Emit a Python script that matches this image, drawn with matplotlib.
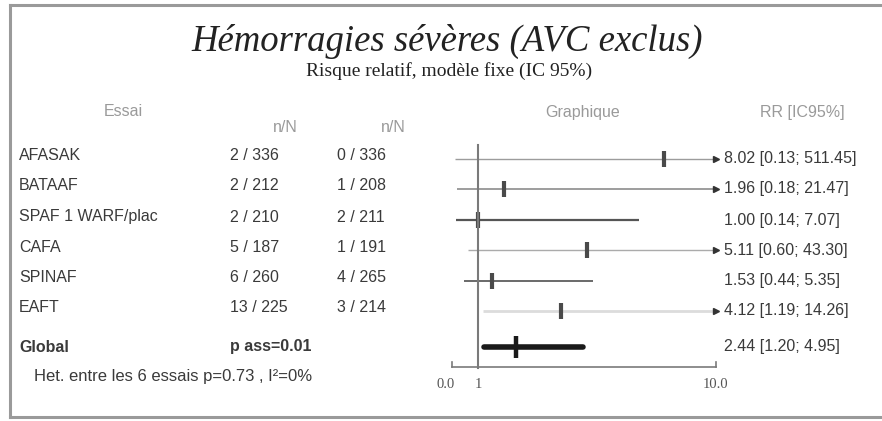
import matplotlib
matplotlib.use("Agg")
import matplotlib.pyplot as plt

# Trial table
trials = ["AFASAK", "BATAAF", "SPAF 1 WARF/plac", "CAFA", "SPINAF", "EAFT"]
treated = ["2 / 336", "2 / 212", "2 / 210", "5 / 187", "6 / 260", "13 / 225"]
control = ["0 / 336", "1 / 208", "2 / 211", "1 / 191", "4 / 265", "3 / 214"]
rr = [8.02, 1.96, 1.00, 5.11, 1.53, 4.12]
ci_low = [0.13, 0.18, 0.14, 0.60, 0.44, 1.19]
ci_high = [511.45, 21.47, 7.07, 43.30, 5.35, 14.26]
rr_global = 2.44
ci_global = (1.20, 4.95)
x_max = 10.0

W, H = 882, 421
fig = plt.figure(figsize=(W / 100, H / 100), dpi=100)
fig.patch.set_facecolor("white")

# page axes in pixel units for all text
page = fig.add_axes([0, 0, 1, 1])
page.set_xlim(0, W)
page.set_ylim(H, 0)
page.axis("off")

# frame
page.plot([10, W], [5, 5], color="#9a9a9a", lw=2.2)
page.plot([10, 10], [5, 417], color="#9a9a9a", lw=2.2)
page.plot([10, W], [417, 417], color="#9a9a9a", lw=2.2)

page.text(447, 41, "Hémorragies sévères (AVC exclus)", family="Liberation Serif",
          style="italic", fontsize=26.5, color="#222222", ha="center", va="center")
page.text(449, 71, "Risque relatif, modèle fixe (IC 95%)", family="Liberation Serif",
          fontsize=14, color="#222222", ha="center", va="center")

hdr = dict(family="Liberation Sans", fontsize=11.5, color="#9a9a9a", ha="center", va="center")
page.text(123, 112, "Essai", **hdr)
page.text(285, 127, "n/N", **hdr)
page.text(393, 127, "n/N", **hdr)
page.text(583, 112, "Graphique", **hdr)
page.text(802, 112, "RR [IC95%]", **hdr)

row_y = [159, 189, 220, 250, 281, 311]
y_global = 347
txt = dict(family="Liberation Sans", fontsize=11.5, color="#3a3a3a", va="center")
for i, y in enumerate(row_y):
    page.text(19, y - 3, trials[i], **txt)
    page.text(230, y - 3, treated[i], **txt)
    page.text(337, y - 3, control[i], **txt)
    page.text(724, y, f"{rr[i]:.2f} [{ci_low[i]:.2f}; {ci_high[i]:.2f}]", **txt)

page.text(19, y_global, "Global", fontweight="bold", **txt)
page.text(230, y_global, "p ass=0.01", fontweight="bold", **txt)
page.text(724, y_global, f"{rr_global:.2f} [{ci_global[0]:.2f}; {ci_global[1]:.2f}]", **txt)
page.text(34, 377, "Het. entre les 6 essais p=0.73 , I²=0%",
          family="Liberation Sans", fontsize=12, color="#3a3a3a", va="center")

# forest panel: x in RR units, y in pixels
x0_px, x1_px = 452, 716
ax = fig.add_axes([x0_px / W, 0, (x1_px - x0_px) / W, 1])
ax.set_xlim(0, x_max)
ax.set_ylim(H, 0)
ax.axis("off")

line_col = ["#9c9c9c", "#8c8c8c", "#555555", "#ababab", "#5e5e5e", "#dcdcdc"]
line_w = [1.0, 1.2, 1.6, 1.0, 1.3, 2.0]
for i, y in enumerate(row_y):
    hi = min(ci_high[i], x_max)
    ax.plot([ci_low[i], hi], [y, y], color=line_col[i], lw=line_w[i],
            solid_capstyle="butt", clip_on=False)
    if ci_high[i] > x_max:
        ax.plot([x_max], [y], marker=">", ms=5, color="#333333",
                mec="#333333", clip_on=False)
    ax.plot([rr[i]], [y], marker="|", ms=11, mew=3, color="#4a4a4a", clip_on=False)

ax.plot(list(ci_global), [y_global, y_global], color="#1a1a1a", lw=4,
        solid_capstyle="round", clip_on=False)
ax.plot([rr_global], [y_global], marker="|", ms=16, mew=3.2, color="#1a1a1a", clip_on=False)

# reference line at RR = 1 and scale
ax.plot([1, 1], [145, 368], color="#7a7a7a", lw=1.5, clip_on=False)
ax.plot([0, x_max], [367, 367], color="#7a7a7a", lw=1.2, clip_on=False)
for t in (0, x_max):
    ax.plot([t, t], [362, 367], color="#7a7a7a", lw=1.2, clip_on=False)
tick = dict(family="Liberation Serif", fontsize=10.5, color="#555555", va="center", ha="center")
ax.text(-0.25, 385, "0.0", **tick)
ax.text(1, 385, "1", **tick)
ax.text(x_max, 385, "10.0", **tick)

fig.savefig("out.png", dpi=100)
